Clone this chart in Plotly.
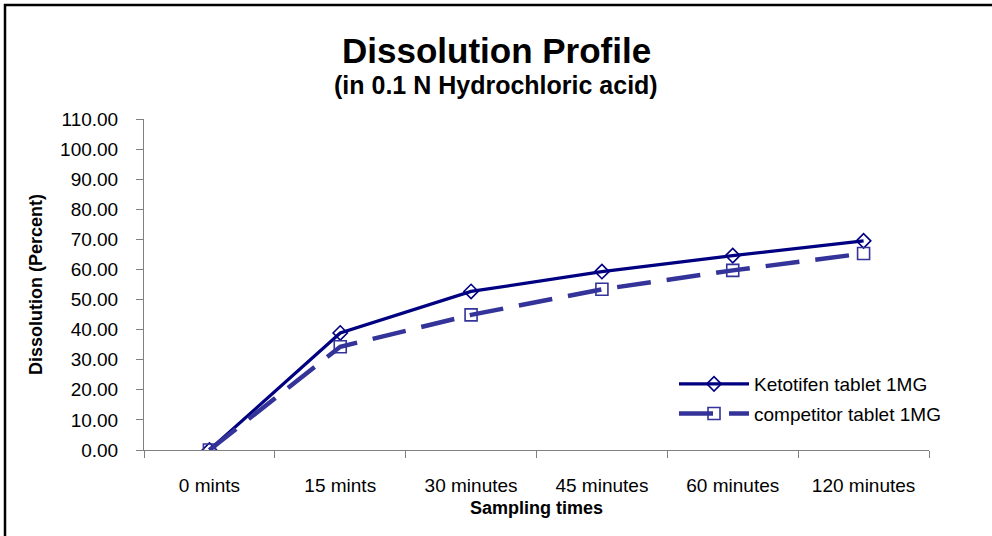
import plotly.graph_objects as go

categories = ["0 mints", "15 mints", "30 minutes", "45 minutes", "60 minutes", "120 minutes"]
ketotifen = [0.0, 38.9, 52.7, 59.3, 64.6, 69.5]
competitor = [0.0, 34.3, 44.9, 53.4, 59.7, 65.3]
y_ticks = [0, 10, 20, 30, 40, 50, 60, 70, 80, 90, 100, 110]

FONT = "Liberation Sans, Arial, sans-serif"

fig = go.Figure()
fig.add_trace(go.Scatter(
    x=categories, y=ketotifen, name="Ketotifen tablet 1MG",
    mode="lines+markers", legendgroup="a",
    line=dict(color="#000080", width=3.2),
    marker=dict(symbol="diamond-open", size=11, color="#000080", line=dict(width=1.6, color="#000080")),
))
fig.add_trace(go.Scatter(
    x=categories, y=competitor, name="competitor tablet 1MG",
    mode="lines+markers", legendgroup="b",
    line=dict(color="#333399", width=4.5, dash="34px,16px"),
    marker=dict(symbol="square-open", size=12, color="#333399", line=dict(width=1.6, color="#333399")),
))

L, R, T, B = 144, 63, 119, 86
W, H = 992, 536
pw, ph = W - L - R, H - T - B

fig.update_layout(
    width=W, height=H,
    margin=dict(l=L, r=R, t=T, b=B),
    paper_bgcolor="white", plot_bgcolor="white",
    font=dict(family=FONT, color="black", size=18),
    showlegend=True,
    legend=dict(
        x=(674 - L) / pw, y=(H - B - 365) / ph, xanchor="left", yanchor="top",
        font=dict(size=19, family=FONT),
        bgcolor="rgba(0,0,0,0)", traceorder="grouped", tracegroupgap=2,
        itemwidth=70,
    ),
    annotations=[
        dict(text="<b>Dissolution Profile</b>", xref="paper", yref="paper",
             x=(W / 2 - L) / pw, y=(H - B - 50) / ph, xanchor="center", yanchor="middle",
             showarrow=False, font=dict(size=35, family=FONT)),
        dict(text="<b>(in 0.1 N Hydrochloric acid)</b>", xref="paper", yref="paper",
             x=(W / 2 - L) / pw, y=(H - B - 85) / ph, xanchor="center", yanchor="middle",
             showarrow=False, font=dict(size=25, family=FONT)),
    ],
    shapes=[
        dict(type="rect", xref="paper", yref="paper",
             x0=(5 - L) / pw, x1=(1100 - L) / pw,
             y0=(H - B - 650) / ph, y1=(H - B - 5) / ph,
             line=dict(color="black", width=2.5), fillcolor="rgba(0,0,0,0)", layer="below"),
    ],
)

fig.update_xaxes(
    type="category", range=[-0.5, len(categories) - 0.5],
    showgrid=False, zeroline=False,
    showline=True, linecolor="#808080", linewidth=1,
    ticks="outside", ticklen=7, tickcolor="#808080", tickson="boundaries",
    tickfont=dict(size=19, family=FONT), ticklabelstandoff=18,
    title=dict(text="<b>Sampling times</b>", font=dict(size=18, family=FONT), standoff=6),
)
fig.update_yaxes(
    range=[0, 110], tickvals=y_ticks, tickformat=".2f",
    showgrid=False, zeroline=False,
    showline=True, linecolor="#808080", linewidth=1,
    ticks="outside", ticklen=7, tickcolor="#808080",
    tickfont=dict(size=19, family=FONT), ticklabelstandoff=14,
    title=dict(text="<b>Dissolution (Percent)</b>", font=dict(size=18, family=FONT), standoff=12),
)

fig.write_html(
    "out.html",
    config={"displayModeBar": False},
    post_script="document.body.style.margin='0';document.body.style.overflow='hidden';",
)
